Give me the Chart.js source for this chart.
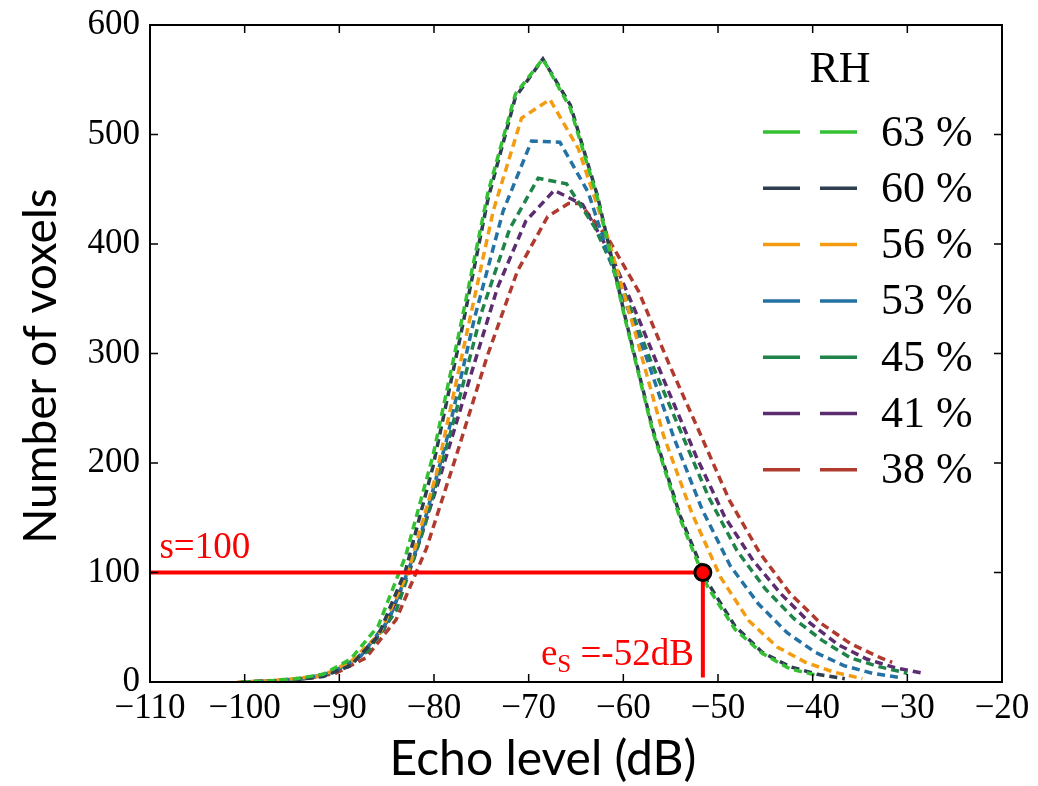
<!DOCTYPE html>
<html>
<head>
<meta charset="utf-8">
<script src="https://cdn.jsdelivr.net/npm/chart.js@4.4.1/dist/chart.umd.min.js"></script>
<style>
  html, body { margin: 0; padding: 0; background: #fff; }
  #wrap { width: 1038px; height: 786px; }
</style>
</head>
<body>
<div id="wrap"><canvas id="chartEcho" width="1038" height="786"></canvas></div>
<script>
// ---- data ----
var rhLabels = ["63 %", "60 %", "56 %", "53 %", "45 %", "41 %", "38 %"];
var rhColors = ["#33c133", "#2c3e50", "#f39c12", "#2471a3", "#1e8449", "#5b2c6f", "#b03a2e"];

var x63 = [-100.4, -97.5, -94.6, -91.7, -88.8, -85.9, -83.0, -80.1, -77.2, -74.3, -71.4, -68.5, -65.6, -62.7, -59.8, -56.9, -54.0, -51.1, -48.2, -45.3, -42.4, -39.5];
var y63 = [0, 1, 3, 7, 21, 51, 115, 207, 325, 447, 537, 569, 524, 441, 331, 229, 149, 87, 48, 26, 12, 6];

var x60 = [-100.4, -97.5, -94.6, -91.7, -88.8, -85.9, -83.0, -80.1, -77.2, -74.3, -71.4, -68.5, -65.6, -62.7, -59.8, -56.9, -54.0, -51.1, -48.2, -45.3, -42.4, -39.5, -36.6];
var y60 = [0, 1, 2, 5, 15, 42, 102, 197, 316, 441, 534, 569, 527, 443, 333, 231, 152, 91, 51, 27, 14, 7, 3];

var x56 = [-100.75, -97.75, -94.75, -91.75, -88.75, -85.75, -82.75, -79.75, -76.75, -73.75, -70.75, -67.75, -64.75, -61.75, -58.75, -55.75, -52.75, -49.75, -46.75, -43.75, -40.75, -37.75, -34.75];
var y56 = [0, 1, 3, 6, 19, 44, 100, 190, 310, 430, 515, 532, 487, 409, 319, 225, 154, 96, 56, 32, 18, 9, 3];

var x53 = [-99.7, -96.7, -93.7, -90.7, -87.7, -84.7, -81.7, -78.7, -75.7, -72.7, -69.7, -66.7, -63.7, -60.7, -57.7, -54.7, -51.7, -48.7, -45.7, -42.7, -39.7, -36.7, -33.7, -30.7];
var y53 = [0, 1, 3, 9, 24, 58, 125, 220, 333, 430, 494, 493, 447, 367, 300, 224, 158, 106, 71, 45, 27, 15, 8, 4];

var x45 = [-99, -96, -93, -90, -87, -84, -81, -78, -75, -72, -69, -66, -63, -60, -57, -54, -51, -48, -45, -42, -39, -36, -33, -30];
var y45 = [0, 1, 4, 11, 28, 65, 142, 236, 337, 414, 460, 455, 415, 358, 291, 230, 169, 120, 85, 58, 38, 22, 14, 8];

var x41 = [-100.3, -97.3, -94.3, -91.3, -88.3, -85.3, -82.3, -79.3, -76.3, -73.3, -70.3, -67.3, -64.3, -61.3, -58.3, -55.3, -52.3, -49.3, -46.3, -43.3, -40.3, -37.3, -34.3, -31.3, -28.3];
var y41 = [0, 1, 3, 7, 20, 48, 108, 189, 275, 360, 421, 449, 436, 390, 330, 267, 206, 151, 111, 80, 54, 34, 21, 13, 8];

var x38 = [-100.0, -96.8, -93.6, -90.4, -87.2, -84.0, -80.8, -77.6, -74.4, -71.2, -68.0, -65.8, -64.6, -61.6, -58.4, -55.2, -52.0, -48.8, -45.6, -42.4, -39.2, -36.0, -32.8, -31.6];
var y38 = [0, 1, 3, 8, 22, 57, 122, 208, 297, 375, 425, 437, 437, 405, 357, 291, 229, 166, 118, 81, 54, 35, 22, 18];

// threshold s and the echo level where the 63 % curve meets it
var sLevel = 100;
var eLevel = -51.6;
var eBottom = 4;

var xTicks = [-110, -100, -90, -80, -70, -60, -50, -40, -30, -20];
var yTicks = [0, 100, 200, 300, 400, 500, 600];

var seriesX = [x63, x60, x56, x53, x45, x41, x38];
var seriesY = [y63, y60, y56, y53, y45, y41, y38];

function toPoints(xs, ys) {
    return xs.map(function (v, i) { return { x: v, y: ys[i] }; });
}

var datasets = rhLabels.map(function (lab, i) {
    return {
        label: lab,
        rh: true,
        data: toPoints(seriesX[i], seriesY[i]),
        borderColor: rhColors[i],
        borderWidth: 3.5,
        borderDash: [8, 5],
        pointRadius: 0,
        tension: 0,
        fill: false,
        order: 1,
    };
});

// red threshold lines + marker
datasets.push({
    label: "s",
    data: [{ x: -110, y: sLevel }, { x: eLevel, y: sLevel }],
    borderColor: "#ff0000",
    borderWidth: 4,
    pointRadius: 0,
    order: -1,
});
datasets.push({
    label: "e",
    data: [{ x: eLevel, y: sLevel }, { x: eLevel, y: eBottom }],
    borderColor: "#ff0000",
    borderWidth: 4,
    pointRadius: 0,
    order: -1,
});
datasets.push({
    label: "pt",
    data: [{ x: eLevel, y: sLevel }],
    showLine: false,
    pointRadius: 8,
    pointBorderWidth: 3,
    pointBackgroundColor: "#ff0000",
    pointBorderColor: "#000000",
    order: -2,
});

// inward ticks on all four sides + black frame
var frameTicks = {
    id: "frameTicks",
    afterDatasetsDraw: function (chart) {
        var ctx = chart.ctx, a = chart.chartArea;
        var sx = chart.scales.x, sy = chart.scales.y;
        ctx.save();
        ctx.strokeStyle = "#000";
        ctx.lineWidth = 1.5;
        ctx.beginPath();
        xTicks.forEach(function (v) {
            var px = sx.getPixelForValue(v);
            ctx.moveTo(px, a.bottom); ctx.lineTo(px, a.bottom - 8);
            ctx.moveTo(px, a.top); ctx.lineTo(px, a.top + 8);
        });
        yTicks.forEach(function (v) {
            var py = sy.getPixelForValue(v);
            ctx.moveTo(a.left, py); ctx.lineTo(a.left + 8, py);
            ctx.moveTo(a.right, py); ctx.lineTo(a.right - 8, py);
        });
        ctx.stroke();
        ctx.lineWidth = 2;
        ctx.strokeRect(a.left, a.top, a.right - a.left, a.bottom - a.top);
        ctx.restore();
    },
};

// axis titles, legend (RH) and red labels
var extras = {
    id: "extras",
    afterDraw: function (chart) {
        var ctx = chart.ctx;
        var sx = chart.scales.x, sy = chart.scales.y;
        ctx.save();
        ctx.fillStyle = "#000";

        ctx.textAlign = "center";
        ctx.textBaseline = "middle";
        ctx.font = "48px Lato";
        ctx.fillText("Echo level (dB)", 543, 760);
        ctx.save();
        ctx.font = "46px Lato";
        ctx.translate(41, 366);
        ctx.rotate(-Math.PI / 2);
        ctx.fillText("Number of voxels", 0, 0);
        ctx.restore();

        ctx.font = "44px 'Liberation Serif'";
        ctx.fillText("RH", 840, 70);
        ctx.textAlign = "left";
        var rows = chart.data.datasets.filter(function (d) { return d.rh; });
        rows.forEach(function (d, i) {
            var y = 132 + i * 56.3;
            ctx.strokeStyle = d.borderColor;
            ctx.lineWidth = 3.5;
            ctx.setLineDash([37, 20]);
            ctx.beginPath();
            ctx.moveTo(763, y);
            ctx.lineTo(857, y);
            ctx.stroke();
            ctx.fillText(d.label, 881, y + 2);
        });
        ctx.setLineDash([]);

        // s=100 label
        ctx.fillStyle = "#ff0000";
        ctx.textBaseline = "alphabetic";
        ctx.font = "37px 'Liberation Serif'";
        ctx.fillText("s=" + sLevel, sx.getPixelForValue(-109), sy.getPixelForValue(sLevel) - 15);

        // e_S label, right aligned against the vertical line
        var right = sx.getPixelForValue(eLevel) - 9;
        var base = sy.getPixelForValue(0) - 17;
        var tail = " =" + Math.round(eLevel) + "dB";
        ctx.textAlign = "right";
        ctx.fillText(tail, right, base);
        var wTail = ctx.measureText(tail).width;
        ctx.font = "25px 'Liberation Serif'";
        ctx.fillText("S", right - wTail, base + 7);
        var wS = ctx.measureText("S").width;
        ctx.font = "37px 'Liberation Serif'";
        ctx.fillText("e", right - wTail - wS, base);
        ctx.restore();
    },
};

Chart.defaults.font.family = "'Liberation Serif'";
Chart.defaults.color = "#000";

var ctx = document.getElementById("chartEcho").getContext("2d");
new Chart(ctx, {
    type: "line",
    data: { datasets: datasets },
    options: {
        responsive: false,
        animation: false,
        layout: { padding: { top: 25, right: 36, left: 0, bottom: 0 } },
        plugins: {
            legend: { display: false },
            tooltip: { enabled: false },
        },
        scales: {
            x: {
                type: "linear",
                min: -110,
                max: -20,
                afterFit: function (s) { s.height = 104; },
                afterBuildTicks: function (s) { s.ticks = xTicks.map(function (v) { return { value: v }; }); },
                grid: { display: false, drawTicks: false },
                border: { display: false },
                ticks: {
                    autoSkip: false,
                    maxRotation: 0,
                    padding: 6,
                    font: { size: 35 },
                    callback: function (v) { return v < 0 ? "\u2212" + Math.abs(v) : String(v); },
                },
            },
            y: {
                min: 0,
                max: 600,
                afterFit: function (s) { s.width = 150; s.paddingTop = 0; s.paddingBottom = 0; },
                afterBuildTicks: function (s) { s.ticks = yTicks.map(function (v) { return { value: v }; }); },
                grid: { display: false, drawTicks: false },
                border: { display: false },
                ticks: { padding: 10, font: { size: 35 } },
            },
        },
    },
    plugins: [frameTicks, extras],
});
</script>
</body>
</html>
